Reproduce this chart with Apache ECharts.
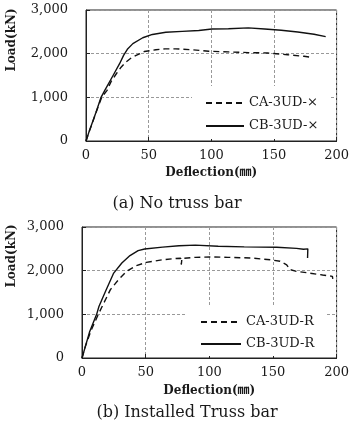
<!DOCTYPE html>
<html>
<head>
<meta charset="utf-8">
<script src="https://cdn.jsdelivr.net/npm/echarts@6/dist/echarts.min.js"></script>
<style>
  html, body { margin: 0; padding: 0; background: #fff; }
  #chart { width: 352px; height: 432px; }
</style>
</head>
<body>
<div id="chart"></div>
<script>
  // deflection (mm), load (kN) pairs
  const caNoTruss = [[0,0],[3,250],[8,650],[12.5,1000],[16.8,1160],[20,1360],[24.2,1540],[28,1690],[32,1810],[36,1900],[40,1960],[46.6,2050],[55.8,2090],[63,2110],[71.6,2110],[84.7,2090],[97.9,2055],[113.7,2040],[129.5,2025],[145,2015],[161,1975],[174,1940],[180.8,1910]]
  const cbNoTruss = [[0,0],[3,260],[8,660],[12,1000],[15,1160],[21.6,1500],[26.8,1770],[30,1960],[33,2100],[37.4,2230],[45.3,2365],[53,2440],[63.7,2490],[76.8,2510],[90,2530],[100.5,2565],[113.7,2570],[129.5,2590],[142.6,2565],[155.8,2535],[169,2495],[182,2445],[191.3,2390]]
  const caTruss = [[0,0],[3,300],[7,620],[12.8,1000],[15.9,1185],[22.3,1565],[28.7,1795],[35,1985],[42.8,2115],[50.5,2190],[63.3,2250],[73.6,2280],[77.5,2285],[78,2140],[78.5,2280],[89,2305],[101.8,2315],[114.6,2305],[132.6,2290],[148,2250],[155.6,2215],[160.8,2135],[163.3,2025],[168.5,1985],[178.7,1945],[189,1900],[196.7,1870],[197,1810]]
  const cbTruss = [[0,0],[2.5,250],[6,600],[11.5,1000],[13.3,1180],[18.5,1530],[24.9,1945],[31.3,2175],[37.7,2345],[44.1,2460],[49.2,2495],[63.3,2540],[76.2,2570],[89,2585],[107,2560],[108,2545],[127.4,2545],[153,2535],[168.5,2510],[169.7,2480],[174,2490],[177.4,2500],[177.2,2290]]

  const seriesNames = ['CA-3UD-×', 'CB-3UD-×', 'CA-3UD-R', 'CB-3UD-R']
  const xTicks = ['0', '50', '100', '150', '200']
  const yTicks = ['0', '1,000', '2,000', '3,000']
  const panelTitles = ['(a) No truss bar', '(b) Installed Truss bar']
  const xName = 'Deflection(㎜)'
  const yName = 'Load(kN)'

  const serif = "'DejaVu Serif', 'Liberation Serif', serif"
  const ink = '#1a1a1a'

  let myChart = echarts.init(document.getElementById('chart'))

  function xAxisFor(i) {
    return {
      type: 'value', gridIndex: i, min: 0, max: 200, interval: 50,
      name: xName, nameLocation: 'middle', nameGap: i === 0 ? 26 : 27,
      nameTextStyle: { fontFamily: serif + ", 'Noto Sans CJK JP'", fontWeight: 'bold', fontSize: 12, color: ink },
      axisLine: { lineStyle: { color: '#222', width: 1 } },
      axisTick: { inside: true, length: 4, lineStyle: { color: '#222' } },
      axisLabel: { margin: 8, fontFamily: serif, fontSize: 13, color: ink,
        formatter: v => xTicks[Math.round(v / 50)] },
      splitLine: { show: true, lineStyle: { color: '#999', type: [3, 2], width: 1 } }
    }
  }
  function yAxisFor(i) {
    return {
      type: 'value', gridIndex: i, min: 0, max: 3000, interval: 1000,
      axisLine: { lineStyle: { color: '#222', width: 1 } },
      axisTick: { inside: true, length: 4, lineStyle: { color: '#222' } },
      axisLabel: { margin: 18, fontFamily: serif, fontSize: 13, color: ink,
        formatter: v => yTicks[Math.round(v / 1000)] },
      splitLine: { show: true, lineStyle: { color: '#999', type: [3, 2], width: 1 } }
    }
  }
  function line(name, data, i, dashed) {
    return {
      name: name, type: 'line', xAxisIndex: i, yAxisIndex: i, data: data,
      symbol: 'none', smooth: false, animation: false,
      itemStyle: { color: '#111' },
      lineStyle: { color: '#111', width: 1.4, type: dashed ? [6, 4] : 'solid' }
    }
  }
  function legendFor(i) {
    return {
      orient: 'vertical',
      left: i === 0 ? 192 : 186,
      top: i === 0 ? 86 : 305,
      padding: i === 0 ? [10, 12, 6, 13] : [10, 12, 5, 14],
      itemWidth: i === 0 ? 38 : 40,
      itemHeight: 14,
      itemGap: i === 0 ? 9 : 8,
      itemTextGap: i === 0 ? 9 : 6,
      backgroundColor: '#fff',
      itemStyle: { opacity: 0 },
      data: i === 0 ? [seriesNames[0], seriesNames[1]] : [seriesNames[2], seriesNames[3]],
      textStyle: { fontFamily: serif, fontSize: 13, lineHeight: 14, color: ink }
    }
  }

  let option = {
    backgroundColor: '#fff',
    animation: false,
    grid: [
      { left: 86, top: 10, right: 10, height: 131, show: true, borderColor: '#222', borderWidth: 1, containLabel: false },
      { left: 82, top: 227, right: 10, height: 131, show: true, borderColor: '#222', borderWidth: 1, containLabel: false }
    ],
    xAxis: [xAxisFor(0), xAxisFor(1)],
    yAxis: [yAxisFor(0), yAxisFor(1)],
    legend: [legendFor(0), legendFor(1)],
    series: [
      line(seriesNames[0], caNoTruss, 0, true),
      line(seriesNames[1], cbNoTruss, 0, false),
      line(seriesNames[2], caTruss, 1, true),
      line(seriesNames[3], cbTruss, 1, false)
    ],
    graphic: [
      { type: 'text', x: 12, y: 40, rotation: Math.PI / 2,
        style: { text: yName, fontFamily: serif, fontWeight: 'bold', fontSize: 12, fill: ink, align: 'center', verticalAlign: 'middle' } },
      { type: 'text', x: 12, y: 256, rotation: Math.PI / 2,
        style: { text: yName, fontFamily: serif, fontWeight: 'bold', fontSize: 12, fill: ink, align: 'center', verticalAlign: 'middle' } },
      { type: 'text', x: 177, y: 204,
        style: { text: panelTitles[0], fontFamily: serif, fontSize: 16, fill: ink, align: 'center', verticalAlign: 'middle' } },
      { type: 'text', x: 187, y: 413,
        style: { text: panelTitles[1], fontFamily: serif, fontSize: 16, fill: ink, align: 'center', verticalAlign: 'middle' } }
    ]
  }
  myChart.setOption(option)
</script>
</body>
</html>
